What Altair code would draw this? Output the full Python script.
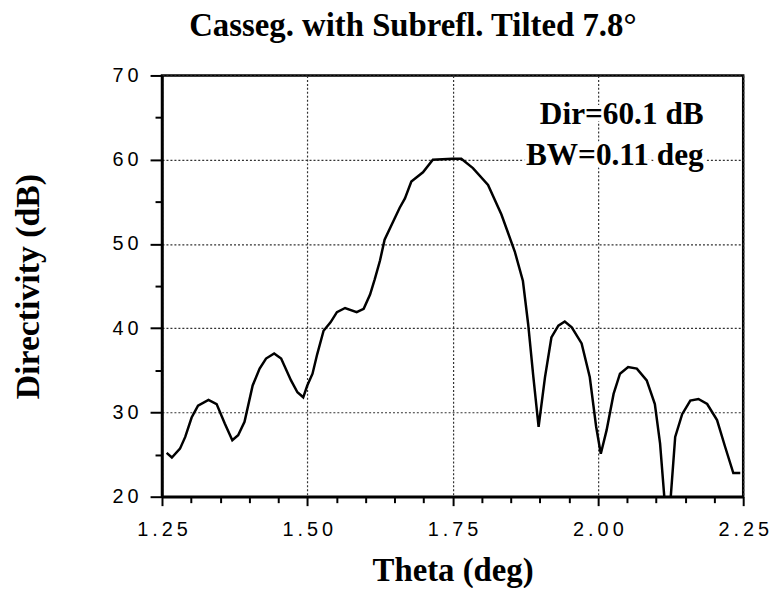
import altair as alt
import pandas as pd

theta = [1.258, 1.267, 1.281, 1.290, 1.301, 1.312, 1.330, 1.344, 1.358, 1.371,
         1.381, 1.392, 1.406, 1.418, 1.429, 1.443, 1.455, 1.472, 1.483, 1.493,
         1.500, 1.509, 1.517, 1.528, 1.540, 1.551, 1.565, 1.585, 1.597, 1.608,
         1.616, 1.625, 1.633, 1.648, 1.659, 1.668, 1.679, 1.699, 1.716, 1.750,
         1.765, 1.785, 1.811, 1.834, 1.857, 1.871, 1.880, 1.889, 1.898, 1.909,
         1.920, 1.932, 1.943, 1.955, 1.972, 1.986, 1.997, 2.005, 2.015, 2.027,
         2.038, 2.052, 2.067, 2.084, 2.098, 2.107, 2.120, 2.133, 2.145, 2.159,
         2.173, 2.188, 2.205, 2.219, 2.233, 2.245]
directivity = [25.2, 24.65, 25.7, 27.1, 29.4, 30.8, 31.5, 31.0, 28.7, 26.7,
               27.3, 28.9, 33.2, 35.2, 36.4, 37.0, 36.4, 33.8, 32.4, 31.8,
               33.2, 34.6, 36.9, 39.7, 40.7, 41.9, 42.4, 41.9, 42.3, 44.0,
               45.8, 48.0, 50.5, 52.7, 54.3, 55.4, 57.4, 58.5, 60.0, 60.1,
               60.1, 59.0, 57.0, 53.5, 49.1, 45.6, 40.5, 34.2, 28.3, 34.2,
               38.9, 40.3, 40.8, 40.1, 38.2, 34.2, 28.3, 25.1, 27.9, 32.2,
               34.6, 35.4, 35.2, 33.8, 31.0, 26.3, 15.0, 27.1, 29.8, 31.4,
               31.6, 31.0, 29.1, 25.9, 22.8, 22.8]

x_ticks = [1.25, 1.30, 1.35, 1.40, 1.45, 1.50, 1.55, 1.60, 1.65, 1.70, 1.75,
           1.80, 1.85, 1.90, 1.95, 2.00, 2.05, 2.10, 2.15, 2.20, 2.25]
x_labels = ["1.25", "1.50", "1.75", "2.00", "2.25"]
y_ticks = [20, 25, 30, 35, 40, 45, 50, 55, 60, 65, 70]

ann_text = ["Dir=60.1 dB", "BW=0.11 deg"]
ann_x = [2.182, 2.182]
ann_y = [64.2, 59.4]

df = pd.DataFrame({"theta": theta, "dir": directivity})
ann = pd.DataFrame({"label": ann_text, "x": ann_x, "y": ann_y})

SERIF = "Liberation Serif"
SANS = "Liberation Sans"
xs = alt.Scale(domain=[1.25, 2.25], nice=False, zero=False)
ys = alt.Scale(domain=[20, 70], nice=False, zero=False)

x_major = "(" + " || ".join("format(datum.value, '.2f') == '%s'" % s for s in x_labels) + ")"
y_major = "(datum.value % 10 == 0)"

label_expr_x = x_major + " ? join(split(format(datum.value, '.2f'), ''), '\u2009') : ''"
label_expr_y = y_major + " ? join(split(format(datum.value, 'd'), ''), '\u2009') : ''"

x_axis = alt.Axis(
    values=x_ticks, labelExpr=label_expr_x, title="Theta (deg)",
    orient="bottom", grid=True, gridDash=[2, 2], gridColor="#333",
    gridWidth=1.2,
    gridOpacity={"condition": {"test": x_major, "value": 1}, "value": 0},
    tickSize={"condition": {"test": x_major, "value": 9}, "value": 6},
    tickWidth=2, tickColor="black",
    domainWidth=2.5, domainColor="black", labelFont=SANS, labelFontSize=20,
    labelColor="black", labelPadding=14, labelFlush=False, labelOverlap=False,
    titleFont=SERIF, titleFontSize=33, titleFontWeight="bold",
    titleColor="black", titleBaseline="alphabetic", titleY=84)

y_axis = alt.Axis(
    values=y_ticks, labelExpr=label_expr_y, title="Directivity  (dB)",
    orient="left", grid=True, gridDash=[2, 2], gridColor="#333",
    gridWidth=1.2,
    gridOpacity={"condition": {"test": y_major, "value": 1}, "value": 0},
    tickSize={"condition": {"test": y_major, "value": 12}, "value": 7},
    tickWidth=2, tickColor="black",
    domainWidth=2.5, domainColor="black", labelFont=SANS, labelFontSize=20,
    labelColor="black", labelPadding=12, labelFlush=False, labelOverlap=False,
    titleFont=SERIF, titleFontSize=34, titleFontWeight="bold",
    titleColor="black", titleX=-134, titleY=212, titleAlign="center",
    titleBaseline="middle", titleAngle=270)

main = alt.Chart(df).mark_line(color="black", strokeWidth=2.5, clip=True).encode(
    x=alt.X("theta:Q", scale=xs, axis=x_axis),
    y=alt.Y("dir:Q", scale=ys, axis=y_axis),
)

halo = alt.Chart(ann).mark_text(
    align="right", baseline="alphabetic", font=SERIF, fontSize=31.5,
    fontWeight="bold", color="white", stroke="white", strokeWidth=8
).encode(x=alt.X("x:Q", scale=xs, axis=x_axis),
         y=alt.Y("y:Q", scale=ys, axis=y_axis), text="label:N")

text = alt.Chart(ann).mark_text(
    align="right", baseline="alphabetic", font=SERIF, fontSize=31.5,
    fontWeight="bold", color="black"
).encode(x=alt.X("x:Q", scale=xs, axis=x_axis),
         y=alt.Y("y:Q", scale=ys, axis=y_axis), text="label:N")

chart = alt.layer(main, halo, text).properties(
    width=585, height=424,
    title=alt.TitleParams(
        "Casseg. with Subrefl. Tilted 7.8°", font=SERIF, fontSize=33,
        fontWeight="bold", color="black", anchor="middle", frame="group",
        offset=23, dx=-40),
    autosize=alt.AutoSizeParams(type="none"),
    padding={"left": 155, "top": 66, "right": 30, "bottom": 90},
    background="white",
).configure_view(stroke="black", strokeWidth=2.5)

chart.save("out.html", embed_options={"renderer": "svg", "actions": False})
